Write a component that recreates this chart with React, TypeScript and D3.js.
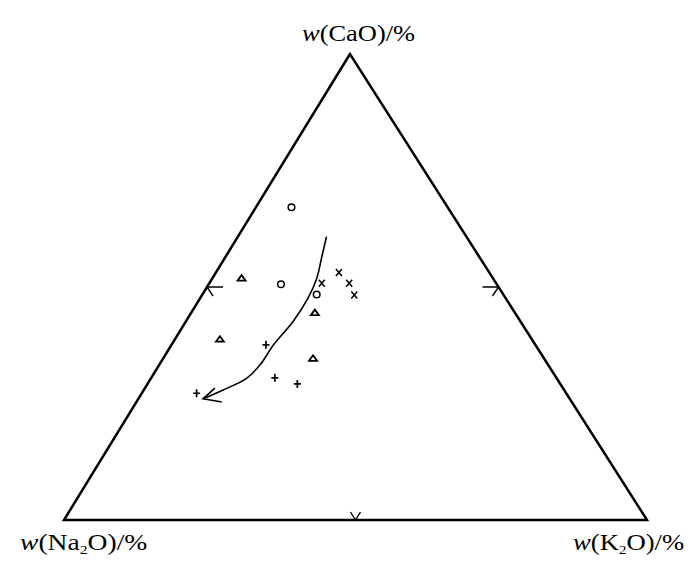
import React from "react";
import * as d3 from "d3";

// compositions, % (CaO, Na2O, K2O)
const circles = [
  [67.1, 26.8, 6.1],
  [50.6, 37.0, 12.4],
  [48.4, 32.0, 19.6],
];
const triangles = [
  [51.9, 43.1, 5.0],
  [38.8, 53.5, 7.7],
  [44.5, 34.3, 21.2],
  [34.7, 39.6, 25.7],
];
const crosses = [
  [50.8, 29.9, 19.3],
  [53.1, 25.8, 21.1],
  [50.8, 25.2, 24.0],
  [48.3, 25.6, 26.1],
];
const pluses = [
  [37.6, 46.2, 16.2],
  [30.5, 48.3, 21.2],
  [29.2, 45.1, 25.7],
  [27.2, 63.4, 9.4],
];
// evolution trend (arrow)
const trend = [
  [60.8, 24.0, 15.2],
  [56.2, 27.2, 16.6],
  [51.9, 30.2, 17.9],
  [47.6, 33.9, 18.5],
  [42.6, 39.0, 18.4],
  [37.6, 44.9, 17.5],
  [33.3, 49.4, 17.3],
  [30.4, 53.2, 16.4],
  [27.9, 58.5, 13.6],
  [26.0, 62.9, 11.1],
];

const W = 700;
const H = 578;
const top = { x: 350, y: 54 }; // CaO
const left = { x: 64, y: 520 }; // Na2O
const right = { x: 647, y: 520 }; // K2O

const yScale = d3.scaleLinear().domain([0, 100]).range([left.y, top.y]);
const project = (d: number[]): [number, number] => {
  const s = d[0] + d[1] + d[2];
  const a = d[0] / s, b = d[1] / s, c = d[2] / s;
  return [top.x * a + left.x * b + right.x * c, yScale(a * 100)];
};

const font = "'Liberation Serif', 'DejaVu Serif', serif";

const App = () => {
  const line = d3.line().curve(d3.curveCatmullRom.alpha(0.5));
  const pts = trend.map(project);
  const tip = pts[pts.length - 1];
  const prev = pts[pts.length - 2];
  const ang = Math.atan2(prev[1] - tip[1], prev[0] - tip[0]);
  const head = [
    [ang - 0.32, 16],
    [ang + 0.58, 19],
  ].map(([t, l]) => [tip[0] + l * Math.cos(t), tip[1] + l * Math.sin(t)]);

  const mL = project([50, 50, 0]);
  const mR = project([50, 0, 50]);
  const mB = project([0, 50, 50]);

  return (
    <div style={{ position: "fixed", left: 0, top: 0 }}>
      <svg width={W} height={H} style={{ display: "block", background: "#fff" }}>
        <path
          d={`M${top.x},${top.y}L${left.x},${left.y}L${right.x},${right.y}Z`}
          fill="none"
          stroke="#000"
          strokeWidth={2.5}
        />
        {/* 50% marks */}
        <g stroke="#000" strokeWidth={1.4} fill="none">
          <path d={`M${mL[0] + 16},${mL[1]}H${mL[0]}l6,9`} />
          <path d={`M${mR[0] - 16},${mR[1]}H${mR[0]}l-6,9`} />
          <path d={`M${mB[0] - 5},${mB[1] - 8}L${mB[0]},${mB[1]}L${mB[0] + 5},${mB[1] - 8}`} />
        </g>
        <path d={line(pts) || ""} fill="none" stroke="#000" strokeWidth={1.6} />
        <path
          d={`M${head[0][0]},${head[0][1]}L${tip[0]},${tip[1]}L${head[1][0]},${head[1][1]}`}
          fill="none"
          stroke="#000"
          strokeWidth={1.6}
        />
        <g fill="none" stroke="#000" strokeWidth={1.5}>
          {circles.map((d, i) => {
            const [x, y] = project(d);
            return <circle key={"c" + i} cx={x} cy={y} r={3.3} />;
          })}
          {triangles.map((d, i) => {
            const [x, y] = project(d);
            return (
              <path key={"t" + i} d={`M${x - 4},${y + 2.5}L${x},${y - 3}L${x + 4},${y + 2.5}Z`} strokeWidth={1.8} />
            );
          })}
          {crosses.map((d, i) => {
            const [x, y] = project(d);
            return (
              <path key={"x" + i} d={`M${x - 3},${y - 3.5}L${x + 3},${y + 3.5}M${x + 3},${y - 3.5}L${x - 3},${y + 3.5}`} />
            );
          })}
          {pluses.map((d, i) => {
            const [x, y] = project(d);
            return (
              <path key={"p" + i} d={`M${x - 3.5},${y}H${x + 3.5}M${x},${y - 4}V${y + 4}`} strokeWidth={1.7} />
            );
          })}
        </g>
        <g fontFamily={font} fontSize={23} fill="#000">
          <g transform="translate(302,41) scale(1.15,1)">
            <text>
              <tspan fontStyle="italic">w</tspan>(CaO)/%
            </text>
          </g>
          <g transform="translate(20,550) scale(1.2,1)">
            <text>
              <tspan fontStyle="italic">w</tspan>(Na<tspan fontSize={13} dy={4}>2</tspan>
              <tspan dy={-4}>O)/%</tspan>
            </text>
          </g>
          <g transform="translate(573,550) scale(1.16,1)">
            <text>
              <tspan fontStyle="italic">w</tspan>(K<tspan fontSize={13} dy={4}>2</tspan>
              <tspan dy={-4}>O)/%</tspan>
            </text>
          </g>
        </g>
      </svg>
    </div>
  );
};

export default App;
